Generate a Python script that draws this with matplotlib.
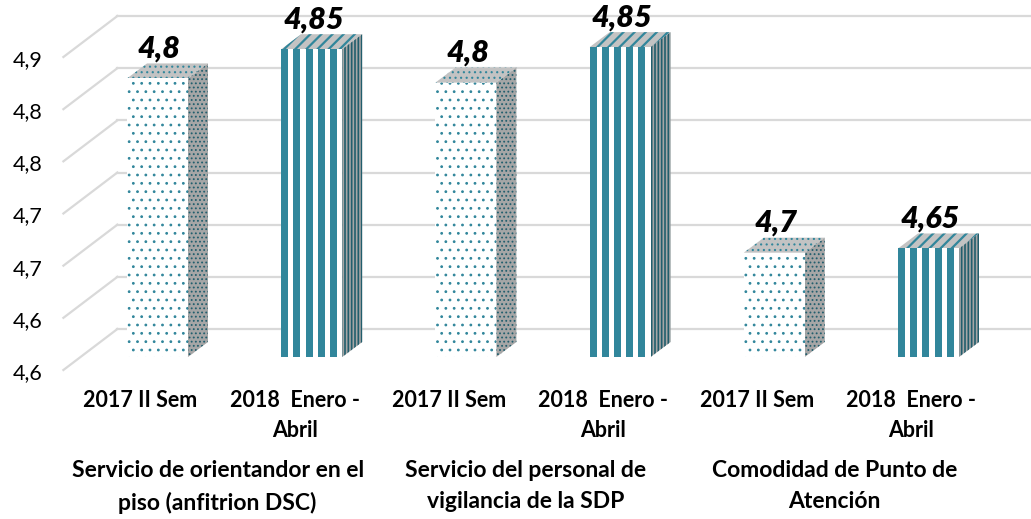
import matplotlib
matplotlib.use("Agg")
import matplotlib.pyplot as plt
from matplotlib.patches import Polygon, Rectangle

plt.rcParams['font.family'] = ['Lato', 'DejaVu Sans']
plt.rcParams['hatch.linewidth'] = 1.2

groups = ["Servicio de orientandor en el\npiso (anfitrion DSC)",
          "Servicio del personal de\nvigilancia de la SDP",
          "Comodidad de Punto de\nAtención"]
periods = ["2017 II Sem", "2018  Enero -\nAbril"]
sem_2017 = [4.817, 4.813, 4.650]
ene_abr_2018 = [4.845, 4.847, 4.654]
labels_2017 = ["4,8", "4,8", "4,7"]
labels_2018 = ["4,85", "4,85", "4,65"]
y_ticks = [4.55, 4.60, 4.65, 4.70, 4.75, 4.80, 4.85]
y_tick_labels = ["4,6", "4,6", "4,7", "4,7", "4,8", "4,8", "4,9"]

TEAL = "#31869b"
DARK_TEAL = "#215e6d"
GRID = "#d9d9d9"
SIDE_GRAY = "#a6a6a6"
TOP_GRAY = "#c3c3c3"

W, H = 1031, 519
fig = plt.figure(figsize=(W / 100, H / 100), dpi=100)
# axes = back wall of the 3d box
ax = fig.add_axes([117.4 / W, (H - 329) / H, 925.2 / W, 313 / H])
ax.set_xlim(0, 6)
ax.set_ylim(4.55, 4.85)
ax.axis("off")

ymin = ax.get_ylim()[0]
px_x = 6 / 925.2
px_y = 0.30 / 313


def offset(dx, dy):
    # pixel offset (right, down) -> data units
    return dx * px_x, -dy * px_y


front_dx, front_dy = offset(-54, 41)   # plane of the axis labels
bar_fx, bar_fy = offset(-37, 28)       # front face of bars
bar_bx, bar_by = offset(-17, 13)       # back face of bars
hw = 30.5 * px_x

# gridlines: back wall + left wall
for t, lab in zip(y_ticks, y_tick_labels):
    ax.plot([0, 6.5], [t, t], color=GRID, lw=1.6, clip_on=False, zorder=1)
    ax.plot([0, front_dx], [t, t + front_dy], color=GRID, lw=1.6, clip_on=False, zorder=1)
    ax.text(front_dx - 21 * px_x, t + front_dy - 3 * px_y, lab, ha="right", va="center",
            fontsize=15.5, clip_on=False)

series = [(sem_2017, labels_2017, "dots"), (ene_abr_2018, labels_2018, "stripes")]

for g, name in enumerate(groups):
    for p, (values, labels, style) in enumerate(series):
        v = values[g]
        c = 2 * g + p + 0.5
        x0, x1 = c - hw, c + hw
        top = [(x0 + bar_fx, v + bar_fy), (x1 + bar_fx, v + bar_fy),
               (x1 + bar_bx, v + bar_by), (x0 + bar_bx, v + bar_by)]
        side = [(x1 + bar_fx, ymin + bar_fy), (x1 + bar_bx, ymin + bar_by),
                (x1 + bar_bx, v + bar_by), (x1 + bar_fx, v + bar_fy)]
        if style == "dots":
            with plt.rc_context({"hatch.linewidth": 0.8}):
                ax.add_patch(Polygon(top, closed=True, facecolor=TOP_GRAY, edgecolor=TEAL,
                                     hatch="...", lw=0, clip_on=False, zorder=3))
                ax.add_patch(Polygon(side, closed=True, facecolor=SIDE_GRAY, edgecolor=DARK_TEAL,
                                     hatch="....", lw=0, clip_on=False, zorder=3))
                ax.add_patch(Rectangle((x0 + bar_fx, ymin + bar_fy), 2 * hw, v - ymin,
                                       facecolor="white", edgecolor=TEAL, hatch="..", lw=0,
                                       clip_on=False, zorder=4))
        else:
            with plt.rc_context({"hatch.linewidth": 1.6}):
                ax.add_patch(Polygon(top, closed=True, facecolor=TOP_GRAY, edgecolor=TEAL,
                                     hatch="///", lw=0, clip_on=False, zorder=3))
            ax.add_patch(Polygon(side, closed=True, facecolor=SIDE_GRAY, edgecolor=DARK_TEAL,
                                 hatch="|||||", lw=0, clip_on=False, zorder=3))
            ax.add_patch(Rectangle((x0 + bar_fx, ymin + bar_fy), 2 * hw, v - ymin,
                                   facecolor="white", lw=0, clip_on=False, zorder=4))
            step = 2 * hw / 5
            for k in range(5):
                ax.add_patch(Rectangle((x0 + bar_fx + k * step, ymin + bar_fy), step * 0.58,
                                       v - ymin, facecolor=TEAL, lw=0, clip_on=False, zorder=5))
        ax.text(c + bar_fx + 2 * px_x, v + bar_by + 6 * px_y, labels[g], ha="center",
                va="baseline", fontsize=22, fontweight="heavy", fontstyle="italic",
                clip_on=False, zorder=6)
        ax.text(c + front_dx, (329 - 390) / 313, periods[p], transform=ax.get_xaxis_transform(),
                ha="center", va="top", fontsize=15.5, fontweight="bold", linespacing=1.55,
                clip_on=False)
    ax.text(2 * g + 1 + front_dx, (329 - 460) / 313, name, transform=ax.get_xaxis_transform(),
            ha="center", va="top", fontsize=16.5, fontweight="bold", linespacing=1.6,
            clip_on=False)

fig.savefig("out.png", dpi=100)
